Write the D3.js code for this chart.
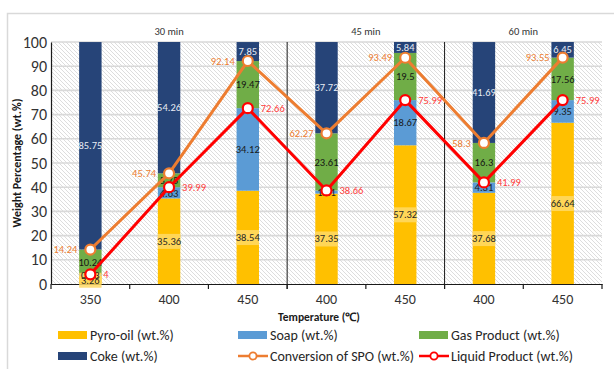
<!DOCTYPE html>
<html>
<head>
<meta charset="utf-8">
<script src="https://cdn.jsdelivr.net/npm/d3@7"></script>
<style>
  html, body { margin: 0; padding: 0; background: #fff; }
  svg { display: block; font-family: Carlito, Calibri, Lato, "Open Sans", sans-serif; }
</style>
</head>
<body>
<svg id="chart" width="614" height="369"></svg>
<script>
// Temperature categories (°C) and their reaction-time groups
const temps = ["350", "400", "450", "400", "450", "400", "450"];
const groupNames = ["30 min", "45 min", "60 min"];
const groupSizes = [3, 2, 2];

// Product distribution (wt.%)
const pyroOil = [3.26, 35.36, 38.54, 37.35, 57.32, 37.68, 66.64];
const soap    = [0.73, 4.63, 34.12, 1.31, 18.67, 4.31, 9.35];
const gasProd = [10.24, 5.75, 19.47, 23.61, 19.5, 16.3, 17.56];
const coke    = [85.75, 54.26, 7.85, 37.72, 5.84, 41.69, 6.45];

// Line series (wt.%)
const conversion = [14.24, 45.74, 92.14, 62.27, 93.49, 58.3, 93.55];
const liquid     = [4, 39.99, 72.66, 38.66, 75.99, 41.99, 75.99];

const yTicks = [0, 10, 20, 30, 40, 50, 60, 70, 80, 90, 100];

const svg = d3.select("#chart");
const W = 614, H = 369;
const m = { left: 51, right: 602, top: 42, bottom: 284 };

// outer chart frame
svg.append("rect")
  .attr("x", 7.5).attr("y", 13.5).attr("width", W).attr("height", H)
  .attr("fill", "none").attr("stroke", "#d9d9d9").attr("stroke-width", 1.5);

const x = d3.scaleBand().domain(d3.range(temps.length)).range([m.left, m.right]);
const y = d3.scaleLinear().domain([0, 100]).range([m.bottom, m.top]);
const barW = x.bandwidth() * 0.285;
const cx = i => x(i) + x.bandwidth() / 2;

// diagonal hatch for plot background
const defs = svg.append("defs");
const pat = defs.append("pattern").attr("id", "hatch")
  .attr("patternUnits", "userSpaceOnUse").attr("width", 4).attr("height", 4);
pat.append("rect").attr("width", 4).attr("height", 4).attr("fill", "#fff");
pat.append("path").attr("d", "M-1,-1 L5,5 M-1,3 L1,5 M3,-1 L5,1")
  .attr("stroke", "#d4d4d4").attr("stroke-width", 0.8);
defs.append("clipPath").attr("id", "plotClip").append("rect")
  .attr("x", m.left).attr("y", m.top).attr("width", m.right - m.left).attr("height", m.bottom - m.top);

svg.append("rect")
  .attr("x", m.left).attr("y", m.top).attr("width", m.right - m.left).attr("height", m.bottom - m.top)
  .attr("fill", "url(#hatch)");

// horizontal gridlines
svg.append("g").selectAll("line").data(yTicks.slice(1)).join("line")
  .attr("x1", m.left).attr("x2", m.right)
  .attr("y1", d => y(d)).attr("y2", d => y(d))
  .attr("stroke", "#d9d9d9").attr("stroke-width", 1.6);

// stacked bars
const seriesDefs = [
  { key: "pyro", vals: pyroOil, fill: "#ffc000", label: "#262626" },
  { key: "soap", vals: soap, fill: "#5b9bd5", label: "#1a1a1a" },
  { key: "gas",  vals: gasProd, fill: "#70ad47", label: "#141414" },
  { key: "coke", vals: coke, fill: "#264478", label: "#e8ecf4" }
];
const rows = temps.map((t, i) => {
  const r = { i };
  seriesDefs.forEach(s => r[s.key] = s.vals[i]);
  return r;
});
const stacked = d3.stack().keys(seriesDefs.map(s => s.key))(rows);

const barsG = svg.append("g").attr("clip-path", "url(#plotClip)");
stacked.forEach((layer, li) => {
  barsG.append("g").selectAll("rect").data(layer).join("rect")
    .attr("x", d => cx(d.data.i) - barW / 2)
    .attr("width", barW)
    .attr("y", d => y(d[1]))
    .attr("height", d => y(d[0]) - y(d[1]))
    .attr("fill", seriesDefs[li].fill);
});

// group separators and group titles
let start = 0;
const sepG = svg.append("g");
groupSizes.forEach((n, gi) => {
  const x0 = x(start), x1 = start + n < temps.length ? x(start + n) : m.right;
  svg.append("text")
    .attr("x", (x0 + x1) / 2).attr("y", 35)
    .attr("text-anchor", "middle").attr("font-size", 10.5).attr("fill", "#333")
    .text(groupNames[gi]);
  if (gi > 0) {
    sepG.append("line").attr("x1", x0).attr("x2", x0)
      .attr("y1", m.top).attr("y2", m.bottom + 5)
      .attr("stroke", "#1a1a1a").attr("stroke-width", 1);
  }
  start += n;
});

// axes
const yAxis = svg.append("g").attr("transform", `translate(${m.left},0)`)
  .call(d3.axisLeft(y).tickValues(yTicks).tickSize(0).tickPadding(4));
yAxis.select(".domain").attr("stroke", "#1a1a1a").attr("stroke-width", 1.2);
yAxis.selectAll("text").attr("font-size", 16).attr("fill", "#333")
  .attr("font-family", "Carlito, Calibri, Lato, sans-serif");

const xAxis = svg.append("g").attr("transform", `translate(0,${m.bottom})`)
  .call(d3.axisBottom(x).tickFormat(i => temps[i]).tickSize(0).tickPadding(10));
xAxis.select(".domain").attr("stroke", "#1a1a1a").attr("stroke-width", 1.2);
xAxis.selectAll("text").attr("font-size", 14).attr("fill", "#333")
  .attr("font-family", "Carlito, Calibri, Lato, sans-serif");
// tick marks at category boundaries
svg.append("g").selectAll("line")
  .data(d3.range(temps.length + 1)).join("line")
  .attr("x1", i => i < temps.length ? x(i) : m.right)
  .attr("x2", i => i < temps.length ? x(i) : m.right)
  .attr("y1", m.bottom).attr("y2", m.bottom + 5)
  .attr("stroke", "#1a1a1a").attr("stroke-width", 1.2);

// axis titles
svg.append("text")
  .attr("transform", "translate(21,163) rotate(-90)")
  .attr("text-anchor", "middle").attr("font-size", 12).attr("font-weight", "bold").attr("fill", "#1a1a1a")
  .text("Weight Percentage (wt.%)");
svg.append("text")
  .attr("x", 319).attr("y", 321)
  .attr("text-anchor", "middle").attr("font-size", 11.5).attr("font-weight", "bold").attr("fill", "#1a1a1a")
  .text("Temperature (℃)");

// segment value labels (centred in the visible part of each segment)
const labG = svg.append("g").attr("font-size", 10.5);
stacked.forEach((layer, li) => {
  const s = seriesDefs[li];
  layer.forEach(d => {
    const lo = Math.min(d[0], 100), hi = Math.min(d[1], 100);
    const ym = y((lo + hi) / 2);
    const txt = String(s.vals[d.data.i]);
    const t = labG.append("text")
      .attr("x", cx(d.data.i)).attr("y", ym).attr("dy", "0.35em")
      .attr("text-anchor", "middle").attr("fill", s.label).text(txt);
    if (s.key === "pyro") {
      const bb = t.node().getBBox();
      labG.insert("rect", () => t.node())
        .attr("x", cx(d.data.i) - barW / 2).attr("width", barW)
        .attr("y", bb.y - 1).attr("height", bb.height + 2)
        .attr("fill", "#ffd966").attr("opacity", 0.85);
    }
  });
});

// line series
const lineDefs = [
  { vals: conversion, color: "#ed7d31", labelColor: "#ed7d31", side: -1 },
  { vals: liquid, color: "#ff0000", labelColor: "#ff3b3b", side: 1 }
];
const line = d3.line().x((d, i) => cx(i)).y(d => y(d));
lineDefs.forEach(L => {
  svg.append("path").datum(L.vals)
    .attr("d", line).attr("fill", "none")
    .attr("stroke", L.color).attr("stroke-width", 3).attr("stroke-linejoin", "round");
});
lineDefs.forEach(L => {
  svg.append("g").selectAll("circle").data(L.vals).join("circle")
    .attr("cx", (d, i) => cx(i)).attr("cy", d => y(d)).attr("r", 5)
    .attr("fill", "#fff").attr("stroke", L.color).attr("stroke-width", 2.2);
  svg.append("g").selectAll("text").data(L.vals).join("text")
    .attr("x", (d, i) => cx(i) + L.side * 13)
    .attr("y", d => y(d)).attr("dy", "0.35em")
    .attr("text-anchor", L.side < 0 ? "end" : "start")
    .attr("font-size", 10.5).attr("fill", L.labelColor)
    .text(d => d);
});

// legend
const legendItems = [
  { name: "Pyro-oil (wt.%)", type: "bar", color: "#ffc000" },
  { name: "Soap (wt.%)", type: "bar", color: "#5b9bd5" },
  { name: "Gas Product (wt.%)", type: "bar", color: "#70ad47" },
  { name: "Coke (wt.%)", type: "bar", color: "#264478" },
  { name: "Conversion of SPO (wt.%)", type: "line", color: "#ed7d31" },
  { name: "Liquid Product (wt.%)", type: "line", color: "#ff0000" }
];
const legCols = [58, 238, 419], legRows = [335, 356];
const leg = svg.append("g");
legendItems.forEach((it, k) => {
  const lx = legCols[k % 3], ly = legRows[Math.floor(k / 3)];
  const g = leg.append("g").attr("transform", `translate(${lx},${ly})`);
  if (it.type === "bar") {
    g.append("rect").attr("x", 0).attr("y", -4).attr("width", 29).attr("height", 8).attr("fill", it.color);
  } else {
    g.append("line").attr("x1", 0).attr("x2", 30).attr("y1", 0).attr("y2", 0)
      .attr("stroke", it.color).attr("stroke-width", 2.5);
    g.append("circle").attr("cx", 15).attr("cy", 0).attr("r", 3.6)
      .attr("fill", "#fff").attr("stroke", it.color).attr("stroke-width", 1.8);
  }
  g.append("text").attr("x", 32).attr("y", 0).attr("dy", "0.35em")
    .attr("font-size", 14).attr("fill", "#262626").text(it.name);
});
</script>
</body>
</html>
